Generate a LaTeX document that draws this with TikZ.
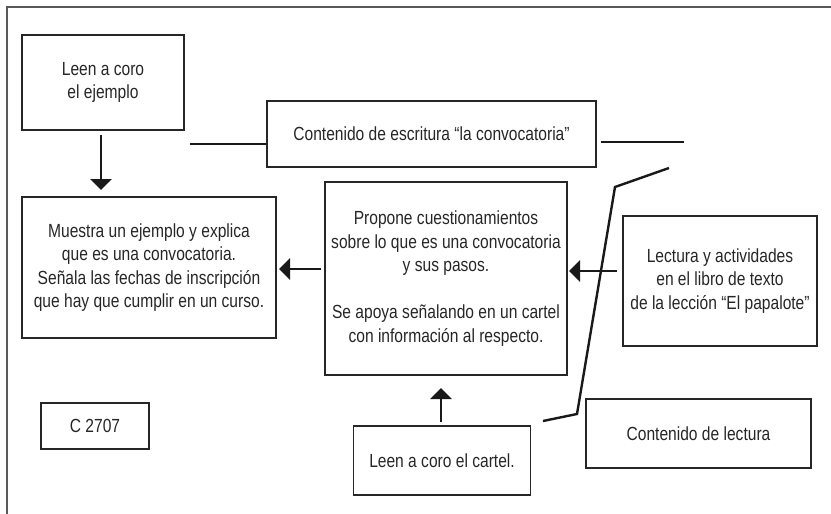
\documentclass[tikz,border=0pt]{standalone}
\usepackage{fontspec}
\setmainfont[FakeStretch=0.82]{Liberation Sans}
\usetikzlibrary{arrows.meta}
\begin{document}
\begin{tikzpicture}[x=1pt,y=-1pt,
  box/.style={draw=black!85,line width=1.2pt,inner sep=0pt,align=center,
    text=black!85,font=\fontsize{19}{23.5}\selectfont},
  conn/.style={line width=2.4pt,black!90},
  arr/.style={conn,-{Triangle[width=21pt,length=11pt]}}]
\useasboundingbox (0,0) rectangle (831,514);
\draw[black!65,line width=1.6pt] (7,514) -- (7,7) -- (831,7);
% boxes
\node[box,minimum width=162pt,minimum height=95pt] (le) at (103,82.5) {Leen a coro\\el ejemplo};
\node[box,minimum width=329pt,minimum height=66pt] (ce) at (431.5,134) {Contenido de escritura “la convocatoria”};
\node[box,minimum width=254pt,minimum height=141pt] (mu) at (149,267.5) {Muestra un ejemplo y explica\\que es una convocatoria.\\Señala las fechas de inscripción\\que hay que cumplir en un curso.};
\node[box,minimum width=242pt,minimum height=193pt] (pr) at (446,278.5) {Propone cuestionamientos\\sobre lo que es una convocatoria\\y sus pasos.\\[23.5pt]Se apoya señalando en un cartel\\con información al respecto.};
\node[box,minimum width=194pt,minimum height=130pt] (lt) at (720,281) {Lectura y actividades\\en el libro de texto\\de la lección “El papalote”};
\node[box,minimum width=108pt,minimum height=46pt] (c2) at (95,426) {C 2707};
\node[box,minimum width=177pt,minimum height=69pt] (lc) at (442,460.5) {Leen a coro el cartel.};
\node[box,minimum width=225pt,minimum height=69pt] (cl) at (698.5,433.5) {Contenido de lectura};
% free line ends
\coordinate (l1a) at (190,144);
\coordinate (r1b) at (684,142);
\coordinate (s1) at (669,168);
\coordinate (s2) at (615,187);
\coordinate (s3) at (577,414);
\coordinate (s4) at (543,421);
% connectors
\draw[arr] (101,135) -- (101,190);
\draw[arr] (pr.west |- 0,269) ++(-3,0) -- (279,269);
\draw[arr] (lt.west |- 0,271) ++(-5,0) -- (569,271);
\draw[arr] (lc.north) ++(-1,-3) -- (441,388);
\draw[conn] (l1a) -- (ce.west |- l1a);
\draw[conn] (ce.east |- r1b) ++(4,0) -- (r1b);
\draw[conn] (s1) -- (s2) -- (s3) -- (s4);
\end{tikzpicture}
\end{document}
